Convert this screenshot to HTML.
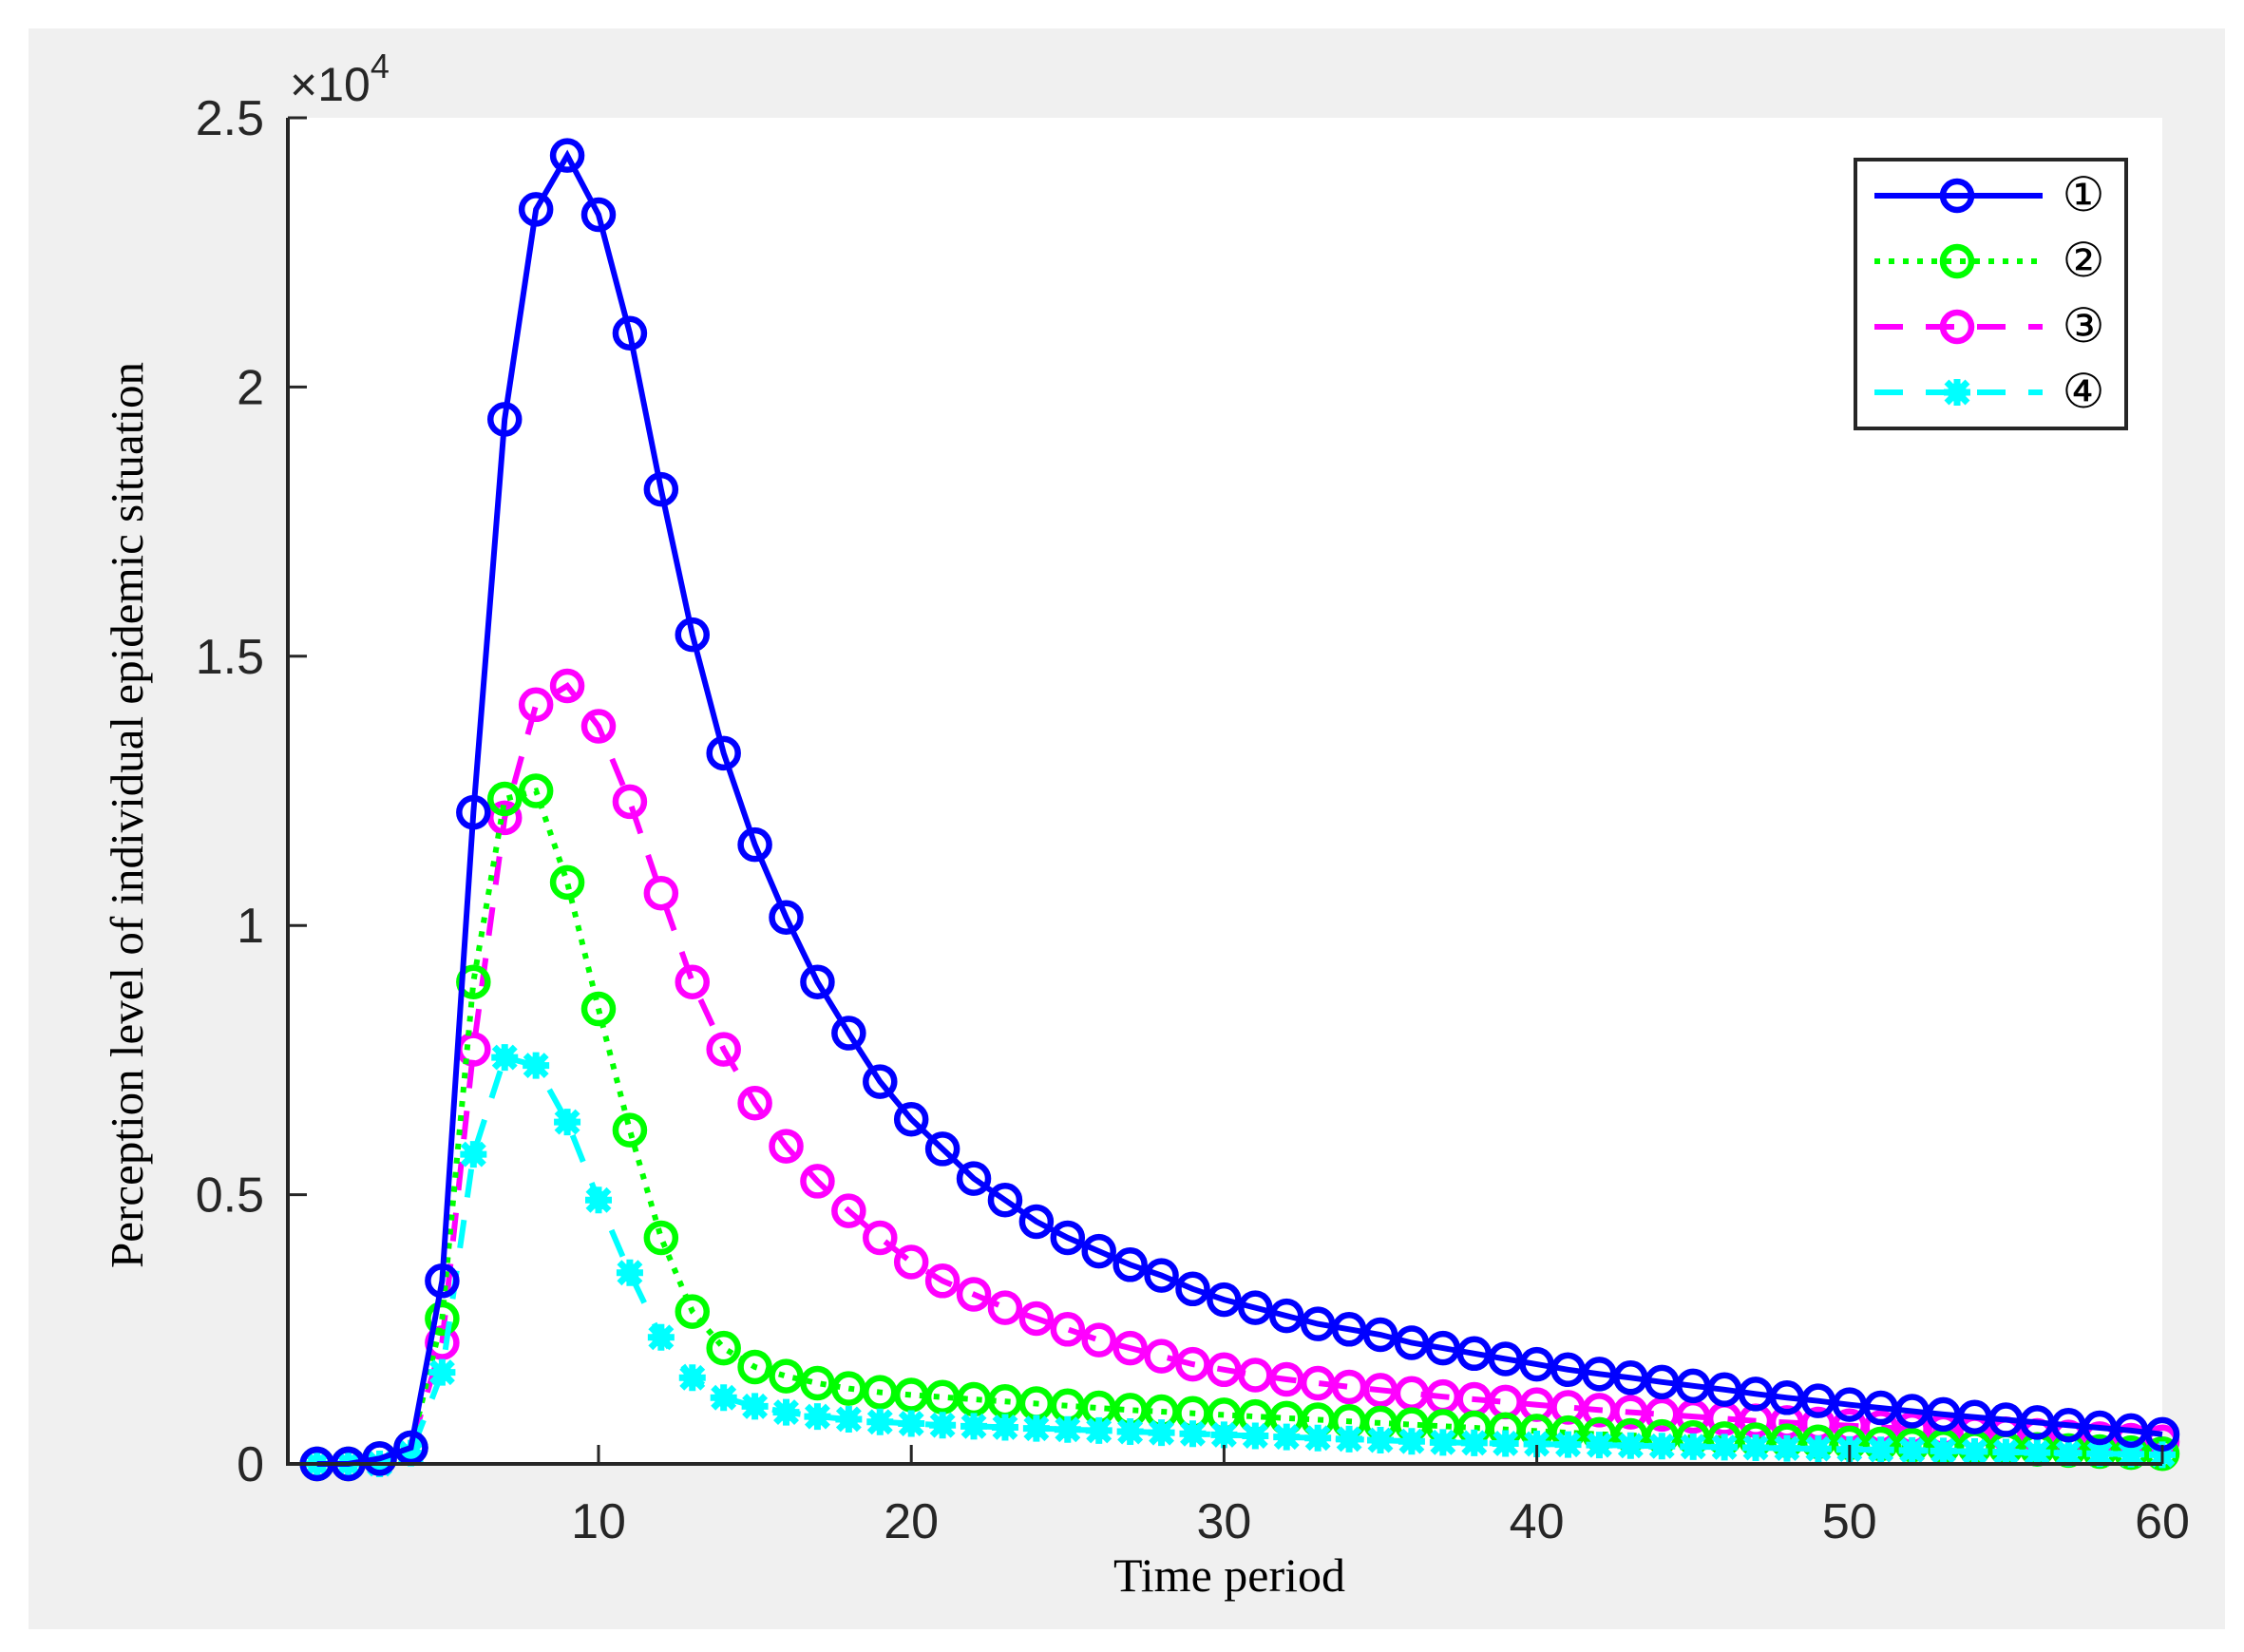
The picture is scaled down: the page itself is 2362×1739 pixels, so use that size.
<!DOCTYPE html>
<html><head><meta charset="utf-8"><style>
html,body{margin:0;padding:0;background:#fff;}
svg{display:block;}
</style></head><body>
<svg id="chart" width="2362" height="1739" viewBox="0 0 2362 1739" xmlns="http://www.w3.org/2000/svg">
<rect x="30" y="30" width="2312" height="1685" fill="#f0f0f0"/>
<rect x="303" y="124" width="1973" height="1417" fill="#fff"/>
<g id="series"></g>
<g id="axes" font-family="Liberation Sans, sans-serif" font-size="52" fill="#262626"></g>
<text x="305" y="106" font-family="Liberation Sans, sans-serif" font-size="50" fill="#262626">×10<tspan dy="-24" font-size="36">4</tspan></text>
<text x="1294" y="1675" text-anchor="middle" font-family="Liberation Serif, serif" font-size="50" fill="#000">Time period</text>
<text transform="translate(150,858) rotate(-90)" text-anchor="middle" font-family="Liberation Serif, serif" font-size="49" fill="#000">Perception level of individual epidemic situation</text>
<g id="legend"></g>
</svg>
<script>
const xValues = Array.from({length:60},(_, i)=>i+1);
const s1 = [0,0,0.01,0.03,0.34,1.21,1.94,2.33,2.43,2.32,2.10,1.81,1.54,1.32,1.15,1.015,0.895,0.80,0.71,0.64,0.585,0.53,0.49,0.45,0.42,0.395,0.37,0.35,0.325,0.305,0.29,0.275,0.26,0.25,0.24,0.225,0.215,0.205,0.195,0.185,0.175,0.167,0.16,0.152,0.145,0.138,0.13,0.123,0.117,0.11,0.104,0.098,0.092,0.087,0.082,0.077,0.072,0.067,0.062,0.055];
const s2 = [0,0,0.01,0.03,0.27,0.895,1.235,1.25,1.08,0.845,0.62,0.42,0.283,0.215,0.18,0.163,0.15,0.14,0.133,0.128,0.124,0.12,0.116,0.112,0.108,0.104,0.1,0.097,0.094,0.091,0.088,0.085,0.082,0.079,0.076,0.073,0.07,0.067,0.064,0.061,0.058,0.055,0.053,0.051,0.049,0.047,0.045,0.043,0.041,0.039,0.037,0.035,0.033,0.031,0.029,0.027,0.025,0.023,0.021,0.019];
const s3 = [0,0,0.01,0.03,0.225,0.77,1.2,1.41,1.445,1.37,1.23,1.06,0.895,0.77,0.67,0.59,0.525,0.47,0.42,0.375,0.34,0.315,0.29,0.27,0.25,0.23,0.215,0.2,0.185,0.175,0.165,0.157,0.15,0.143,0.137,0.131,0.125,0.12,0.115,0.11,0.105,0.1,0.096,0.092,0.088,0.084,0.08,0.077,0.074,0.071,0.068,0.065,0.062,0.059,0.056,0.053,0.05,0.047,0.044,0.041];
const s4 = [0,0,0,0.02,0.17,0.575,0.755,0.74,0.635,0.49,0.355,0.235,0.16,0.123,0.107,0.096,0.088,0.083,0.078,0.075,0.072,0.07,0.068,0.066,0.064,0.062,0.06,0.058,0.056,0.054,0.052,0.05,0.048,0.046,0.044,0.042,0.04,0.039,0.038,0.037,0.036,0.035,0.034,0.033,0.032,0.031,0.03,0.029,0.028,0.027,0.026,0.025,0.024,0.023,0.022,0.021,0.02,0.019,0.018,0.017];
const xTicks = [10,20,30,40,50,60];
const yTicks = [0,0.5,1,1.5,2,2.5];
const yTickLabels = ["0","0.5","1","1.5","2","2.5"];
const legendLabels = ["①","②","③","④"];

const NS="http://www.w3.org/2000/svg";
const L=303,R=2276,T=124,B=1541;
const xs=v=>630+(v-10)*(R-630)/50;
const ys=v=>B-v*(B-T)/2.5;
function mk(tag,attrs,parent){const e=document.createElementNS(NS,tag);for(const k in attrs)e.setAttribute(k,attrs[k]);parent.appendChild(e);return e;}

const seriesG=document.getElementById('series');
const specs=[
 {d:s3,c:'#ff00ff',dash:'30,24',m:'circle',name:'series-3'},
 {d:s2,c:'#00ff00',dash:'6,9',m:'circle',name:'series-2'},
 {d:s4,c:'#00ffff',dash:'30,24',m:'star',name:'series-4'},
 {d:s1,c:'#0000ff',dash:'',m:'circle',name:'series-1'}
];
function marker(g,m,x,y,c){
 if(m==='circle'){return mk('circle',{cx:x,cy:y,r:15,fill:'none',stroke:c,'stroke-width':6.5},g);}
 const p=mk('path',{d:`M${x-14},${y}H${x+14}M${x},${y-14}V${y+14}M${x-11},${y-11}L${x+11},${y+11}M${x-11},${y+11}L${x+11},${y-11}`,stroke:c,'stroke-width':7,fill:'none'},g);
 mk('circle',{cx:x,cy:y,r:10,fill:c},g);
 return p;
}
specs.forEach(s=>{
 const g=mk('g',{},seriesG);
 
 
 const pts=s.d.map((v,i)=>xs(xValues[i]).toFixed(1)+','+ys(v).toFixed(1)).join(' ');
 const pl=mk('polyline',{points:pts,fill:'none',stroke:s.c,'stroke-width':6,'stroke-dasharray':s.dash||'none'},g);
 
 
 s.d.forEach((v,i)=>{
  const mm=marker(g,s.m,xs(xValues[i]),ys(v),s.c);
  
  
 });
});

const ax=document.getElementById('axes');
mk('path',{d:`M${L},${T}V${B}H${R}`,fill:'none',stroke:'#262626','stroke-width':4},ax);
xTicks.forEach(t=>{
 const x=xs(t);
 const tk=mk('line',{x1:x,y1:B,x2:x,y2:B-20,stroke:'#262626','stroke-width':3},ax);
 
 
 const tx=mk('text',{x:x,y:B+78,'text-anchor':'middle'},ax);
 tx.textContent=t;
 
 
});
yTicks.forEach((t,i)=>{
 const y=ys(t);
 const tk=mk('line',{x1:L,y1:y,x2:L+20,y2:y,stroke:'#262626','stroke-width':3},ax);
 
 
 const tx=mk('text',{x:L-25,y:y+18,'text-anchor':'end'},ax);
 tx.textContent=yTickLabels[i];
 
 
});

const lg=document.getElementById('legend');


mk('rect',{x:1953,y:168,width:285,height:283,fill:'#fff',stroke:'#262626','stroke-width':4},lg);
const legSpecs=[[ '#0000ff','', 'circle'],['#00ff00','6,9','circle'],['#ff00ff','30,24','circle'],['#00ffff','30,24','star']];
legSpecs.forEach((s,i)=>{
 const y=206+i*69;
 const g=mk('g',{},lg);
 
 
 mk('line',{x1:1973,y1:y,x2:2150,y2:y,stroke:s[0],'stroke-width':6,'stroke-dasharray':s[1]||'none'},g);
 marker(g,s[2],2060,y,s[0]);
 const t=mk('text',{x:2193,y:y+16,'text-anchor':'middle','font-family':'Liberation Serif, DejaVu Serif, serif','font-size':50,fill:'#000'},g);
 t.textContent=legendLabels[i];
});
</script>
</body></html>
